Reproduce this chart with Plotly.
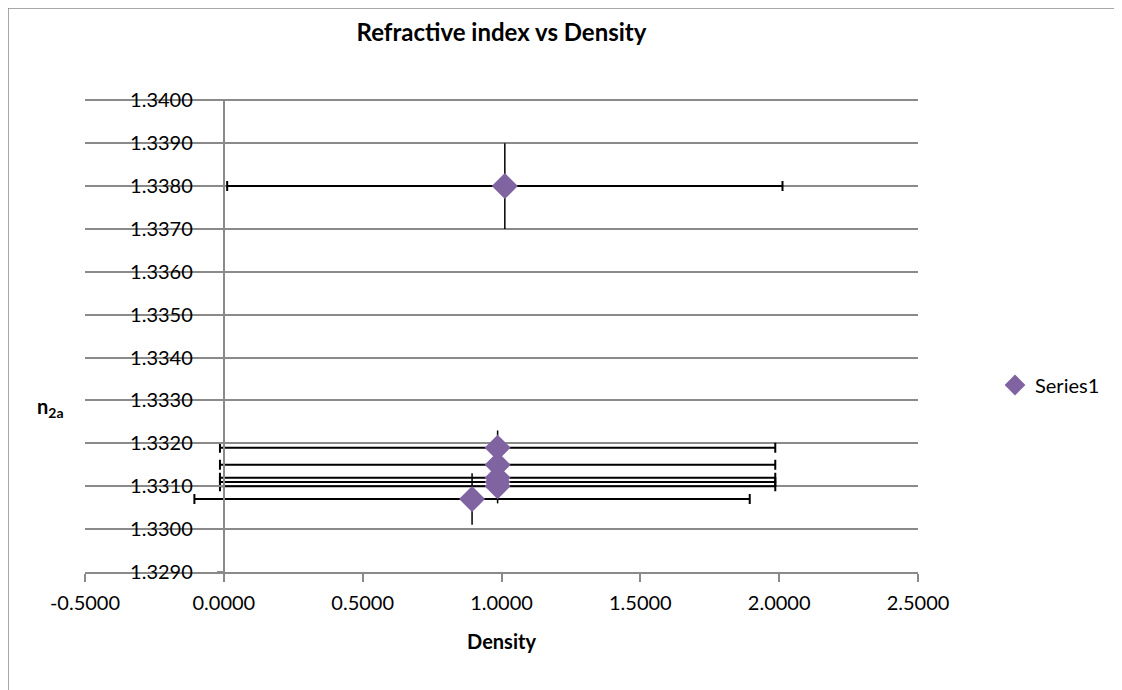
import plotly.graph_objects as go

# Data
density = [1.012, 0.986, 0.986, 0.986, 0.986, 0.986, 0.894]
n2a = [1.3380, 1.3319, 1.3315, 1.3312, 1.3311, 1.3310, 1.3307]
x_err = [1.0, 1.0, 1.0, 1.0, 1.0, 1.0, 1.0]
y_err = [0.0010, 0.0004, 0.0004, 0.0004, 0.0004, 0.0004, 0.0006]

x_ticks = [-0.5, 0.0, 0.5, 1.0, 1.5, 2.0, 2.5]
x_tick_labels = ["-0.5000", "0.0000", "0.5000", "1.0000", "1.5000", "2.0000", "2.5000"]
y_ticks = [1.329, 1.330, 1.331, 1.332, 1.333, 1.334, 1.335, 1.336, 1.337, 1.338, 1.339, 1.340]

FONT = "Lato"
GRID = "#8a8a8a"

fig = go.Figure()
fig.add_trace(go.Scatter(
    x=density, y=n2a, mode="markers", name="Series1",
    marker=dict(symbol="diamond", size=20, color="#8064A2"),
    error_x=dict(type="data", array=x_err, visible=True, color="black", thickness=2, width=5),
    error_y=dict(type="data", array=y_err, visible=True, color="black", thickness=1.5, width=0),
))

O = 8  # page offset
L, R, T, B = 85 - O, 1122 - 918 + O, 99 - O, 690 - 572 + O
W, H = 1122, 690
pw, ph = W - L - R, H - T - B


def px_x(p):
    return (p - O - L) / pw


def px_y(p):
    return (H - B - (p - O)) / ph


fig.update_layout(
    width=W, height=H,
    margin=dict(l=L, r=R, t=T, b=B, autoexpand=False),
    paper_bgcolor="white", plot_bgcolor="white",
    font=dict(family=FONT, size=20, color="black"),
    title=dict(text="<b>Refractive index vs Density</b>", x=(L + pw / 2) / W, xanchor="center",
               y=1 - (33 - O) / H, yanchor="middle", font=dict(size=24, family=FONT)),
    showlegend=True,
    legend=dict(x=px_x(995), y=px_y(385), xanchor="left", yanchor="middle",
                font=dict(size=20, family=FONT), bgcolor="rgba(0,0,0,0)", itemwidth=30),
    xaxis=dict(range=[-0.5, 2.5], tickvals=x_ticks, ticktext=x_tick_labels, showgrid=False,
               zeroline=False, showline=True, linecolor=GRID, linewidth=2,
               ticks="outside", ticklen=8, tickcolor=GRID, tickwidth=2, ticklabelstandoff=4,
               title=dict(text="<b>Density</b>", font=dict(size=20), standoff=22)),
    yaxis=dict(range=[1.329, 1.34003], tickvals=y_ticks, tickformat=".4f",
               showgrid=True, gridcolor=GRID, gridwidth=2, zeroline=False,
               anchor="free", position=(0 - (-0.5)) / 3.0,
               showline=True, linecolor=GRID, linewidth=2, ticklabelstandoff=20,
               ticks="outside", ticklen=6, tickcolor=GRID, tickwidth=2),
)

fig.add_annotation(text="<b>n<sub>2a</sub></b>", xref="paper", yref="paper",
                   x=px_x(50), y=px_y(407), showarrow=False,
                   font=dict(size=20, family=FONT), xanchor="center", yanchor="middle")

fig.add_shape(type="rect", xref="paper", yref="paper",
              x0=px_x(8), x1=px_x(1140),
              y0=px_y(710), y1=px_y(8),
              line=dict(color="#8a8a8a", width=1.5), layer="below")

fig.write_html("out.html")
